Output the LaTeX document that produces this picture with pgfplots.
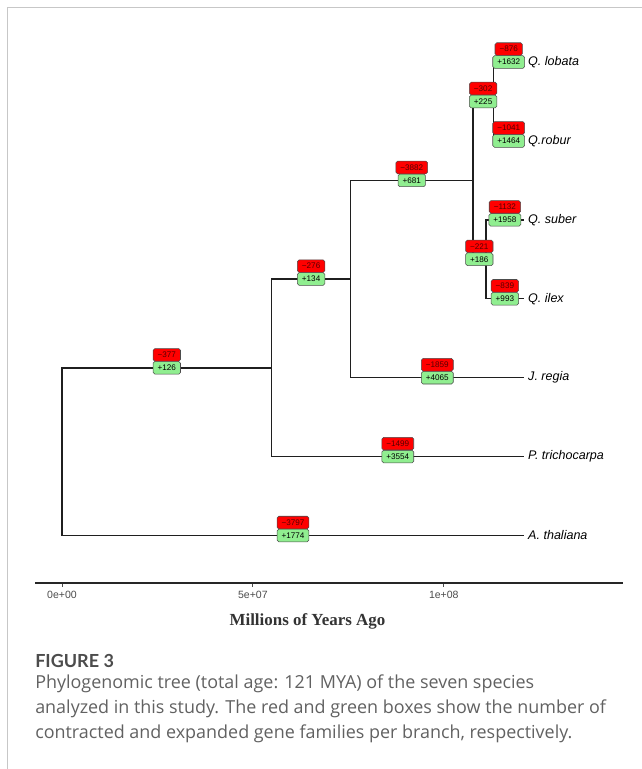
\documentclass[border=0pt]{standalone}
\usepackage{fontspec}
\setmainfont{Liberation Sans}
\newfontfamily\capfont{Open Sans}
\newfontfamily\figfont{Lato}
\newfontfamily\serifb{Liberation Serif}
\usepackage{pgfplots}
\pgfplotsset{compat=1.18}
\definecolor{boxred}{RGB}{255,0,0}
\definecolor{boxgreen}{RGB}{144,238,144}
\definecolor{redtext}{RGB}{85,0,0}
\tikzset{
  gbox/.style={draw=black!70, line width=0.4pt, rounded corners=1.3pt, inner xsep=3.4pt, inner ysep=2.6pt,
    text height=4.3pt, text depth=0pt, font=\fontsize{6.1}{6}\selectfont},
}
\begin{document}
\begin{tikzpicture}
\begin{scope}[x=0.75pt,y=0.75pt]
\useasboundingbox (0,0) rectangle (642,769);
% frame
\draw[black!22, line width=1pt] (7.3,0) -- (7.3,761.7) -- (642,761.7);
\end{scope}
\begin{axis}[
  at={(26.25pt,139.725pt)}, anchor=south west,
  scale only axis, width=440.9pt, height=420.1pt,
  xmin=-7.07, xmax=146.9, ymin=0.402, ymax=7.5,
  axis x line*=bottom, hide y axis,
  xtick={0,50,100}, xticklabels={0e+00,5e+07,1e+08},
  xtick align=outside, major tick length=3pt,
  x axis line style={line width=1.3pt, black!85},
  xtick style={black!70, line width=0.6pt},
  xticklabel style={font=\fontsize{7.9}{8}\selectfont, text=black!70},
  xlabel={Millions of Years Ago},
  xlabel style={font=\serifb\bfseries\fontsize{12.7}{13}\selectfont, text=black!80,
    at={(axis description cs:0.4634,-0.0696)}, anchor=center},
  clip=false,
]
% branches
\addplot[black!88, line width=1.1pt] coordinates {(121,1) (0,1) (0,3.125) (54.9,3.125)};
\addplot[black!88, line width=1.1pt] coordinates {(121,2) (54.9,2) (54.9,4.25) (75.6,4.25)};
\addplot[black!88, line width=1.1pt] coordinates {(121,3) (75.6,3) (75.6,5.5) (107.6,5.5)};
\addplot[black!88, line width=1.1pt] coordinates {(111,4.5) (107.6,4.5) (107.6,6.5) (113,6.5)};
\addplot[black!88, line width=1.1pt] coordinates {(121,6) (113,6) (113,7) (121,7)};
\addplot[black!88, line width=1.1pt] coordinates {(121,4) (111,4) (111,5) (121,5)};
% expanded (green)
\addplot[draw=none, nodes near coords, point meta=explicit symbolic,
  nodes near coords style={gbox, fill=boxgreen, anchor=center, text=black}]
  coordinates {
  (60.5,1) [+1774]
  (27.45,3.125) [+126]
  (87.95,2) [+3554]
  (65.25,4.25) [+134]
  (98.3,3) [+4065]
  (91.6,5.5) [+681]
  (110.3,6.5) [+225]
  (109.3,4.5) [+186]
  (117,7) [+1632]
  (117,6) [+1464]
  (116,5) [+1958]
  (116,4) [+993]
  };
% contracted (red)
\addplot[draw=none, nodes near coords, point meta=explicit symbolic,
  nodes near coords style={gbox, fill=boxred, anchor=south, yshift=4.75pt, text=redtext}]
  coordinates {
  (60.5,1) [−3797]
  (27.45,3.125) [−377]
  (87.95,2) [−1499]
  (65.25,4.25) [−276]
  (98.3,3) [−1859]
  (91.6,5.5) [−3882]
  (110.3,6.5) [−302]
  (109.3,4.5) [−221]
  (117,7) [−876]
  (117,6) [−1041]
  (116,5) [−1132]
  (116,4) [−839]
  };
% tip labels
\addplot[draw=none, nodes near coords, point meta=explicit symbolic,
  nodes near coords style={anchor=west, xshift=3pt, inner sep=0pt, text=black,
    font=\fontsize{9.4}{10}\selectfont\itshape}]
  coordinates {
  (121,7) [Q. lobata]
  (121,6) [Q.robur]
  (121,5) [Q. suber]
  (121,4) [Q. ilex]
  (121,3) [J. regia]
  (121,2) [P. trichocarpa]
  (121,1) [A. thaliana]
  };
\end{axis}
\begin{scope}[x=0.75pt,y=0.75pt]
\node[anchor=base west, inner sep=0pt, font=\figfont\bfseries\fontsize{13.5}{16}\selectfont, text=black!70] at (35,769-668) {FIGURE 3};
\node[anchor=base west, inner sep=0pt, font=\capfont\fontsize{13.45}{15}\selectfont, text=black!62] at (35,769-689) {Phylogenomic tree (total age: 121 MYA) of the seven species};
\node[anchor=base west, inner sep=0pt, font=\capfont\fontsize{13.45}{15}\selectfont, text=black!62] at (35,769-713.5) {analyzed in this study. The red and green boxes show the number of};
\node[anchor=base west, inner sep=0pt, font=\capfont\fontsize{13.45}{15}\selectfont, text=black!62] at (35,769-738) {contracted and expanded gene families per branch, respectively.};
\end{scope}
\end{tikzpicture}
\end{document}
